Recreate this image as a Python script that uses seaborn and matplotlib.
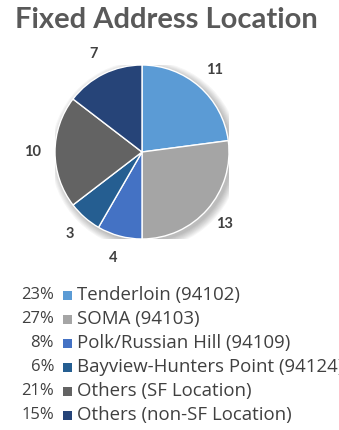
import matplotlib
matplotlib.use("Agg")
import matplotlib.pyplot as plt
import seaborn as sns
from matplotlib.patches import Circle, Rectangle

# Counts per fixed-address location
categories = [
    "Tenderloin (94102)",
    "SOMA (94103)",
    "Polk/Russian Hill (94109)",
    "Bayview-Hunters Point (94124)",
    "Others (SF Location)",
    "Others (non-SF Location)",
]
counts = [11, 13, 4, 3, 10, 7]
colors = ["#5B9BD5", "#A5A5A5", "#4472C4", "#255E91", "#636363", "#264478"]

sns.set_theme(style="white")
plt.rcParams["font.family"] = ["Lato", "DejaVu Sans"]

W, H = 339, 430
fig = plt.figure(figsize=(W / 100, H / 100), dpi=100)
fig.patch.set_facecolor("white")

fig.text(166 / W, 1 - 20 / H, "Fixed Address Location", ha="center", va="center",
         fontsize=21, fontweight="bold", color="#595959")

# Pie axes: centre (142, 152) px, radius 87 px
cx, cy, r = 142, 152, 87
ax = fig.add_axes([(cx - r) / W, (H - cy - r) / H, 2 * r / W, 2 * r / H])
ax.set_axis_off()

# soft drop shadow
for i in range(8):
    s = Circle((0.035, -0.035), 1.0 + 0.012 * i, facecolor="black",
               alpha=0.035, edgecolor="none", zorder=0)
    ax.add_patch(s)

wedges, texts = ax.pie(
    counts, colors=colors, startangle=90, counterclock=False,
    labels=[str(c) for c in counts], labeldistance=1.26,
    wedgeprops=dict(edgecolor="white", linewidth=1.0),
    textprops=dict(fontsize=10.5, fontweight="bold", color="#404040"),
)
for w in wedges:
    w.set_zorder(2)
for t in texts:
    t.set_ha("center")
    t.set_va("center")
ax.set_xlim(-1, 1)
ax.set_ylim(-1, 1)
ax.set_aspect("equal")

# Legend with percentages on the left
total = sum(counts)
row_y = [295, 319, 343, 367, 391, 415]
legend_font = ["Open Sans", "DejaVu Sans"]
for cat, val, col, y in zip(categories, counts, colors, row_y):
    pct = f"{round(100 * val / total)}%"
    fig.text(54 / W, 1 - y / H, pct, ha="right", va="center",
             fontsize=12, color="#404040", family=legend_font)
    fig.patches.append(Rectangle((63 / W, 1 - (y + 4.5) / H), 9 / W, 9 / H,
                                 transform=fig.transFigure, facecolor=col,
                                 edgecolor="none"))
    fig.text(77 / W, 1 - y / H, cat, ha="left", va="center",
             fontsize=13.4, color="#404040", family=legend_font)

fig.savefig("out.png", dpi=100)
